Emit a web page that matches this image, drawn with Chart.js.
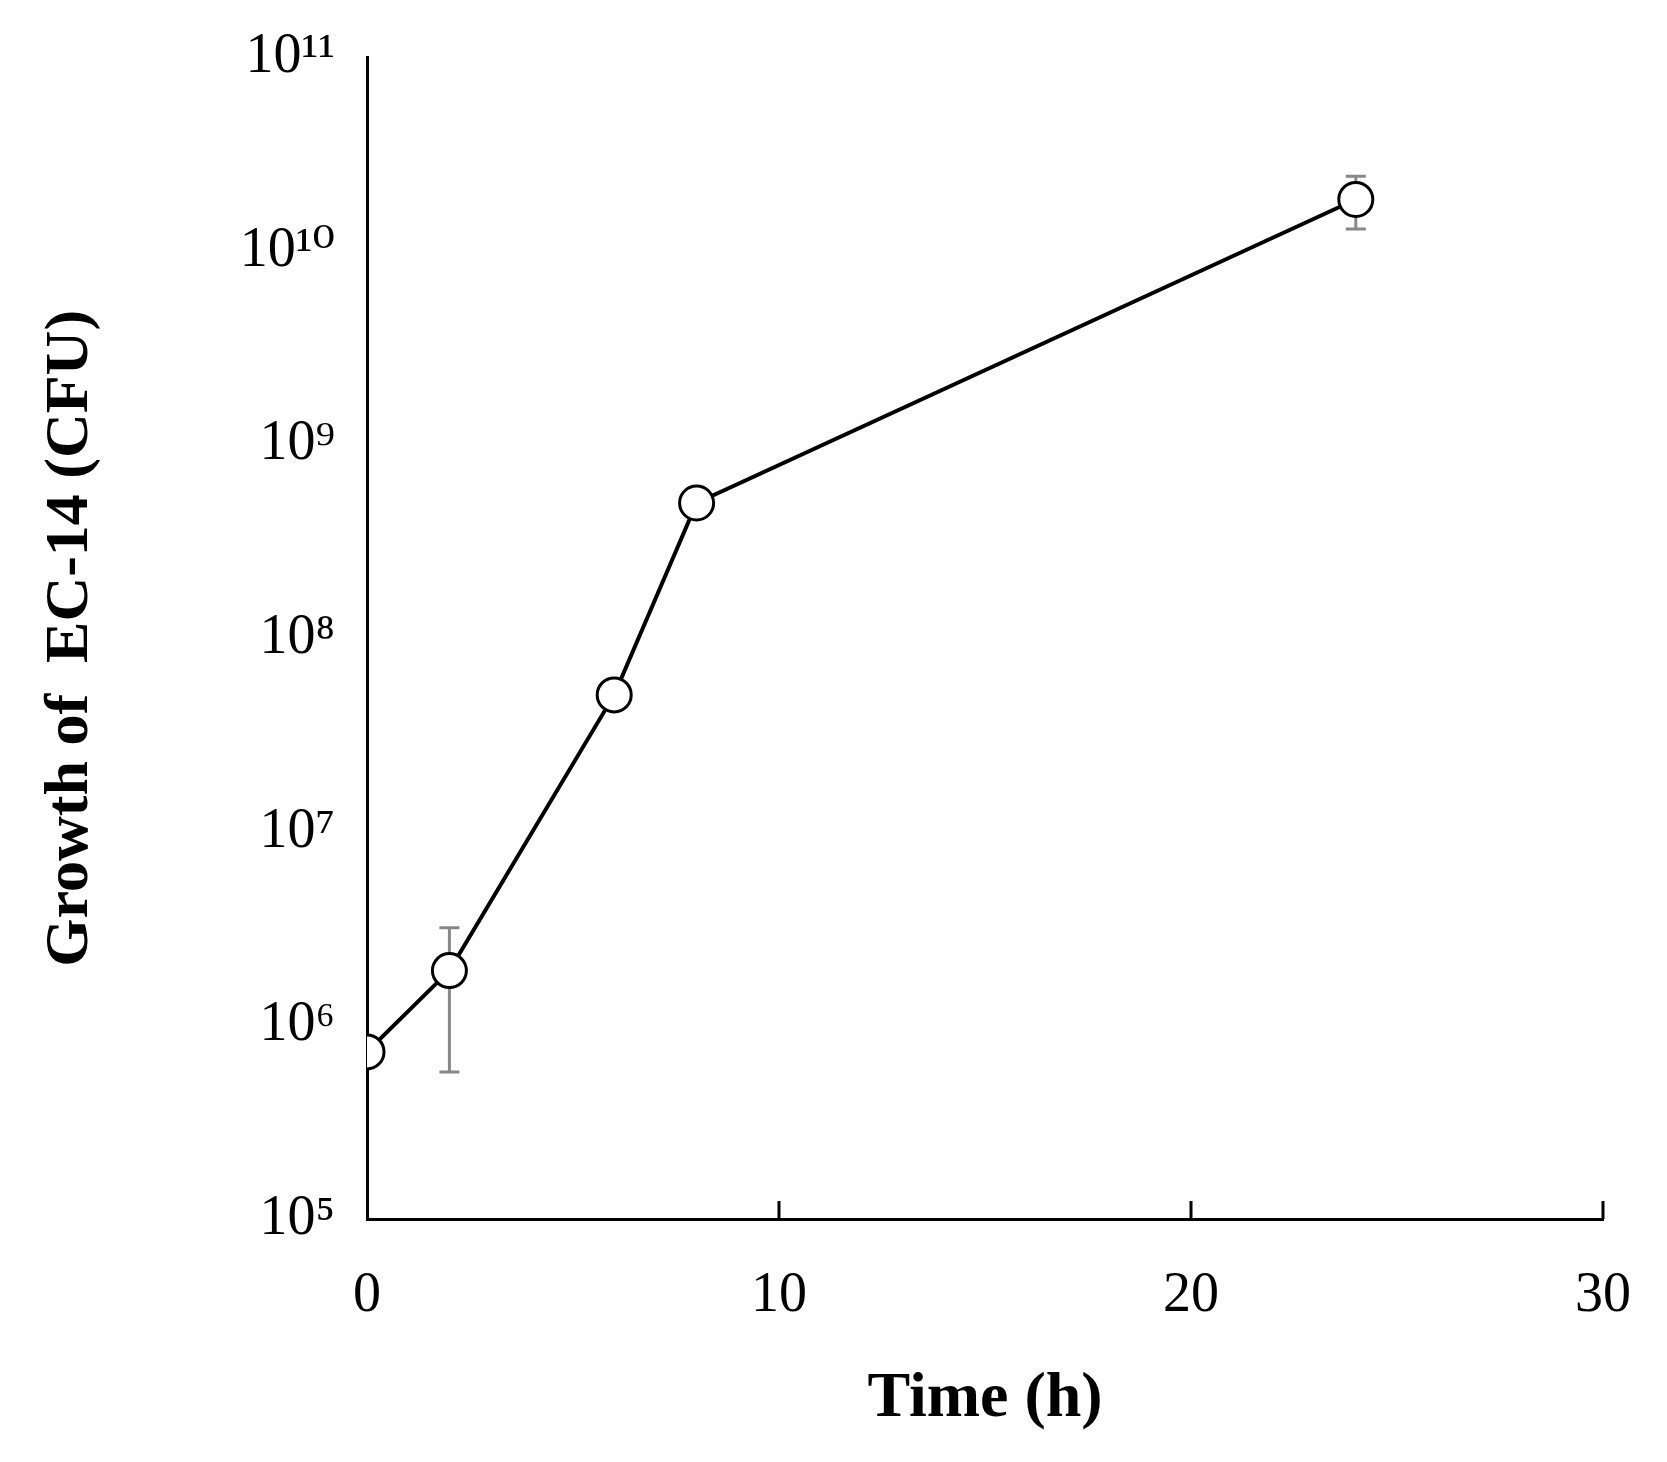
<!DOCTYPE html>
<html><head><meta charset="utf-8">
<script src="https://cdn.jsdelivr.net/npm/chart.js@4"></script>
<style>body{margin:0;background:#fff}</style>
</head><body>
<canvas id="c" width="1667" height="1462"></canvas>
<script>
const hours = [0, 2, 6, 8, 24];
const cfu = [7.3e5, 1.92e6, 5.1e7, 5.0e8, 1.85e10];
const errLow = [null, 5.75e5, null, null, 1.3e10];
const errHigh = [null, 3.2e6, null, null, 2.44e10];
const yTicks = [1e5, 1e6, 1e7, 1e8, 1e9, 1e10, 1e11];
const xTicks = [0, 10, 20, 30];

const sup = {'0':'⁰','1':'¹','2':'²','3':'³','4':'⁴','5':'⁵','6':'⁶','7':'⁷','8':'⁸','9':'⁹'};
const font = '"Liberation Serif", "DejaVu Serif", serif';

const extras = {
  id: 'extras',
  beforeDatasetsDraw(chart) {
    const {ctx, scales: {x, y}} = chart;
    ctx.save();
    // error bars
    ctx.strokeStyle = '#888'; ctx.lineWidth = 3;
    hours.forEach((h, i) => {
      if (errLow[i] == null) return;
      const px = x.getPixelForValue(h), y1 = y.getPixelForValue(errLow[i]), y2 = y.getPixelForValue(errHigh[i]);
      ctx.beginPath();
      ctx.moveTo(px, y1); ctx.lineTo(px, y2);
      ctx.moveTo(px - 10, y1); ctx.lineTo(px + 10, y1);
      ctx.moveTo(px - 10, y2); ctx.lineTo(px + 10, y2);
      ctx.stroke();
    });
    // inward x ticks
    ctx.strokeStyle = '#000'; ctx.lineWidth = 3;
    xTicks.slice(1).forEach(t => {
      const px = x.getPixelForValue(t);
      ctx.beginPath(); ctx.moveTo(px, y.bottom); ctx.lineTo(px, y.bottom - 18); ctx.stroke();
    });
    ctx.restore();
  }
};

new Chart(document.getElementById('c').getContext('2d'), {
  type: 'line',
  data: {
    datasets: [{
      data: hours.map((h, i) => ({x: h, y: cfu[i]})),
      borderColor: '#000', borderWidth: 4,
      pointRadius: 17, pointBackgroundColor: '#fff', pointBorderColor: '#000', pointBorderWidth: 3
    }]
  },
  options: {
    responsive: false, animation: false,
    layout: {padding: {top: 45, right: 56, left: 30, bottom: 20}},
    plugins: {legend: {display: false}, tooltip: {enabled: false}},
    scales: {
      x: {
        type: 'linear', min: 0, max: 30,
        afterBuildTicks: s => { s.ticks = xTicks.map(v => ({value: v})); },
        afterFit: s => { s.height = 223; },
        grid: {display: false},
        border: {display: true, color: '#000', width: 3},
        ticks: {color: '#000', font: {family: font, size: 56}, padding: 36},
        title: {display: true, text: 'Time (h)', color: '#000', font: {family: font, size: 64, weight: 'bold'}, padding: {top: 10}}
      },
      y: {
        type: 'logarithmic', min: 1e5, max: 1e11,
        afterBuildTicks: s => { s.ticks = yTicks.map(v => ({value: v})); },
        afterFit: s => { s.width = 337; },
        grid: {display: false},
        border: {display: true, color: '#000', width: 3},
        ticks: {color: '#000', font: {family: font, size: 56}, padding: 24,
          callback: v => '10' + String(Math.round(Math.log10(v))).split('').map(c => sup[c]).join('')},
        title: {display: true, text: 'Growth of  EC-14 (CFU)', color: '#000', font: {family: font, size: 62, weight: 'bold'}, padding: {bottom: 10}}
      }
    }
  },
  plugins: [extras]
});
</script>
</body></html>
